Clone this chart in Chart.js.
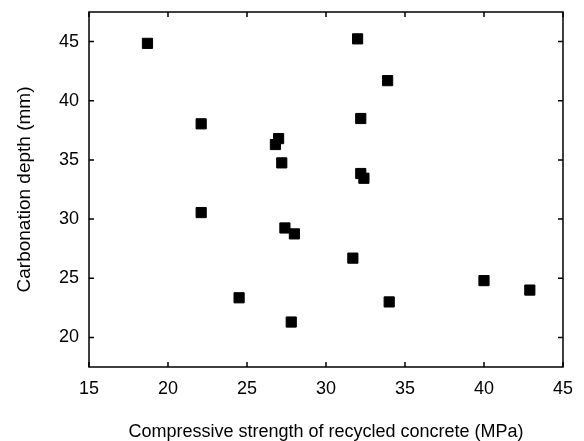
<!DOCTYPE html>
<html>
<head>
<meta charset="utf-8">
<script src="https://cdn.jsdelivr.net/npm/chart.js@4.4.1/dist/chart.umd.min.js"></script>
<style>
  html, body { margin: 0; padding: 0; background: #fff; }
  #wrap { width: 584px; height: 441px; }
</style>
</head>
<body>
<div id="wrap"><canvas id="chart" width="584" height="441"></canvas></div>
<script>
// compressive strength (MPa) vs carbonation depth (mm)
const strength = [18.7, 32.0, 33.9, 32.2, 22.1, 27.0, 26.8, 27.2, 32.2, 32.4,
                  22.1, 27.4, 28.0, 31.7, 40.0, 42.9, 24.5, 34.0, 27.8];
const depth    = [44.85, 45.23, 41.7, 38.5, 38.05, 36.8, 36.3, 34.75, 33.85, 33.45,
                  30.55, 29.25, 28.75, 26.7, 24.8, 24.0, 23.35, 23.0, 21.3];

const xTicks = [15, 20, 25, 30, 35, 40, 45];
const yTicks = [20, 25, 30, 35, 40, 45];

const points = strength.map((s, i) => ({ x: s, y: depth[i] }));

// box + inward ticks on all four sides
const frame = {
    id: 'frame',
    afterDatasetsDraw(chart) {
        const { ctx, chartArea: a, scales } = chart;
        ctx.save();
        ctx.strokeStyle = '#000';
        ctx.lineWidth = 1.5;
        ctx.strokeRect(a.left, a.top, a.right - a.left, a.bottom - a.top);
        ctx.beginPath();
        const len = 5;
        xTicks.forEach(v => {
            const px = scales.x.getPixelForValue(v);
            ctx.moveTo(px, a.bottom); ctx.lineTo(px, a.bottom - len);
            ctx.moveTo(px, a.top); ctx.lineTo(px, a.top + len);
        });
        yTicks.forEach(v => {
            const py = scales.y.getPixelForValue(v);
            ctx.moveTo(a.left, py); ctx.lineTo(a.left + len, py);
            ctx.moveTo(a.right, py); ctx.lineTo(a.right - len, py);
        });
        ctx.stroke();
        ctx.restore();
    }
};

const font = { family: 'Liberation Sans, Arial, sans-serif', size: 18 };

new Chart(document.getElementById('chart'), {
    type: 'scatter',
    data: {
        datasets: [{
            data: points,
            pointStyle: 'rect',
            pointRadius: 7.2,
            pointHoverRadius: 7.2,
            backgroundColor: '#000',
            borderColor: '#000',
            borderWidth: 1,
        }]
    },
    options: {
        responsive: false,
        animation: false,
        layout: { padding: { top: 12, right: 18, left: 0, bottom: 0 } },
        plugins: {
            legend: { display: false },
            tooltip: { enabled: false }
        },
        scales: {
            x: {
                type: 'linear',
                min: 15,
                max: 45,
                afterBuildTicks: s => { s.ticks = xTicks.map(v => ({ value: v })); },
                afterFit: s => { s.height = 74; },
                grid: { display: false, drawTicks: false },
                border: { display: false },
                ticks: { color: '#000', font: font, padding: 11, maxRotation: 0 },
                title: {
                    display: true,
                    text: 'Compressive strength of recycled concrete (MPa)',
                    color: '#000',
                    font: font,
                    padding: { top: 0, bottom: -2 }
                }
            },
            y: {
                type: 'linear',
                min: 17.5,
                max: 47.5,
                afterBuildTicks: s => { s.ticks = yTicks.map(v => ({ value: v })); },
                afterFit: s => { s.width = 89; s.paddingTop = 0; s.paddingBottom = 0; },
                grid: { display: false, drawTicks: false },
                border: { display: false },
                ticks: { color: '#000', font: font, padding: 10 },
                title: {
                    display: true,
                    text: 'Carbonation depth (mm)',
                    color: '#000',
                    font: { family: font.family, size: 19 },
                    padding: { top: 13, bottom: 0 }
                }
            }
        }
    },
    plugins: [frame]
});
</script>
</body>
</html>
